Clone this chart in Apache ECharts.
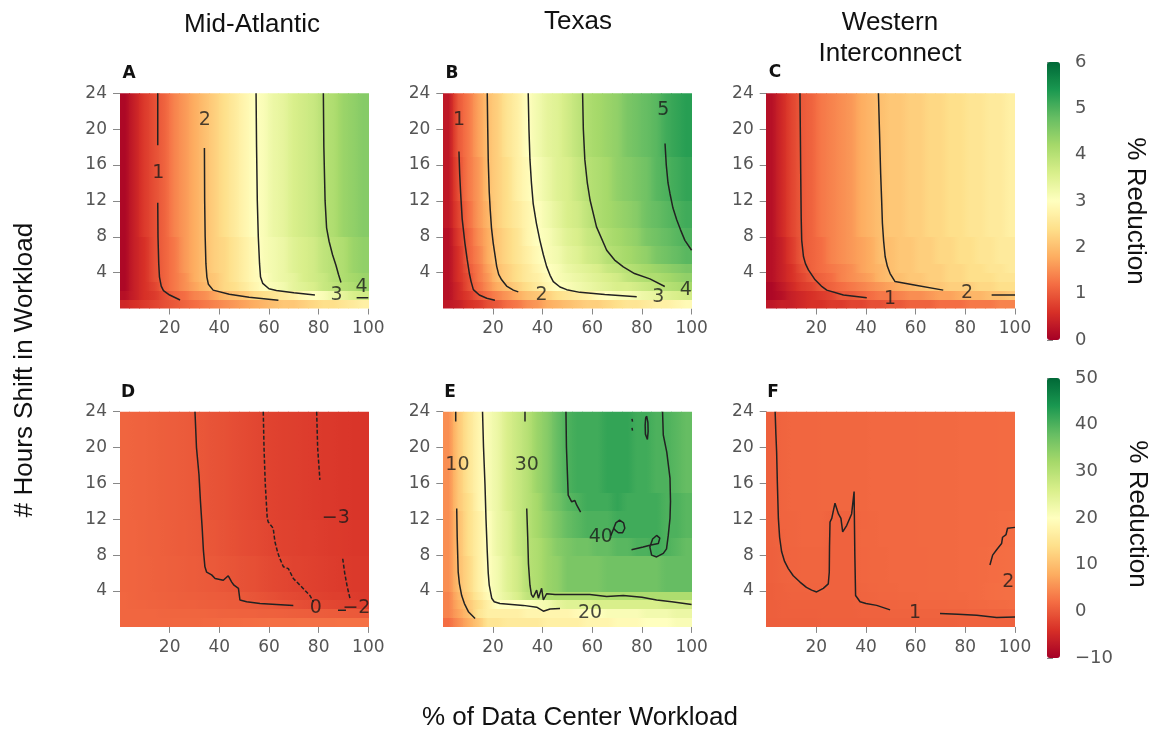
<!DOCTYPE html>
<html><head><meta charset="utf-8">
<script src="https://cdn.jsdelivr.net/npm/echarts@6/dist/echarts.min.js"></script>
<style>html,body{margin:0;padding:0;background:#fff}#chart{width:1170px;height:734px}</style>
</head><body><div id="chart"></div>
<script>
// ---------- axes / labels ----------
const xCenters = [2,6,10,14,18,22,26,30,34,38,42,46,50,54,58,62,66,70,74,78,82,86,90,94,98];
const yCenters = [0.5,1.5,2.5,3.5,4.5,5.5,6.5,7.5,8.5,9.5,10.5,11.5,12.5,13.5,14.5,15.5,16.5,17.5,18.5,19.5,20.5,21.5,22.5,23.5];
const xTicks = [20,40,60,80,100];
const yTicks = [4,8,12,16,20,24];
const colTitles = ['Mid-Atlantic','Texas','Western','Interconnect'];
const panelLetters = ['A','B','C','D','E','F'];
const xTitle = '% of Data Center Workload';
const yTitle = '# Hours Shift in Workload';
const cbarTitle = '% Reduction';
const RdYlGn = ['#a50026','#d73027','#f46d43','#fdae61','#fee08b','#ffffbf','#d9ef8b','#a6d96a','#66bd63','#1a9850','#006837'];

// ---------- panel A (Mid-Atlantic, top) : rows by hour band ----------
const A_top=[0.1,0.4,0.7,0.9,1.1,1.4,1.6,1.8,2.0,2.2,2.4,2.6,2.8,3.0,3.1,3.3,3.4,3.6,3.7,3.8,4.0,4.1,4.3,4.4,4.5];
const A_r4=[0.1,0.4,0.6,0.9,1.1,1.3,1.6,1.8,2.0,2.2,2.3,2.5,2.7,2.9,3.1,3.2,3.3,3.5,3.6,3.7,3.9,4.0,4.1,4.3,4.4];
const A_r3=[0.1,0.4,0.6,0.9,1.1,1.3,1.5,1.8,2.0,2.1,2.3,2.5,2.7,2.9,3.0,3.2,3.3,3.4,3.6,3.7,3.8,4.0,4.1,4.2,4.3];
const A_r2=[0.1,0.4,0.6,0.8,1.1,1.3,1.5,1.7,1.9,2.1,2.3,2.4,2.6,2.8,3.0,3.1,3.2,3.4,3.5,3.6,3.8,3.9,4.0,4.1,4.3];
const A_r1=[0.2,0.4,0.6,0.7,0.9,1.1,1.2,1.4,1.5,1.7,1.9,2.0,2.1,2.3,2.4,2.5,2.6,2.7,2.9,3.0,3.1,3.3,3.4,3.6,3.7];
const A_r0=[0.5,0.6,0.7,0.8,0.9,1.0,1.1,1.2,1.3,1.4,1.5,1.6,1.7,1.8,1.9,2.0,2.1,2.1,2.2,2.3,2.4,2.4,2.5,2.6,2.7];
const rowsA=[A_r0,A_r1,A_r2,A_r3,A_r4,A_r4,A_r4,A_r4,A_top,A_top,A_top,A_top,A_top,A_top,A_top,A_top,A_top,A_top,A_top,A_top,A_top,A_top,A_top,A_top];

// ---------- panel B (Texas, top) ----------
const B_top=[0.3,1.0,1.3,1.7,2.0,2.2,2.5,2.7,3.0,3.2,3.4,3.5,3.7,3.9,4.1,4.2,4.3,4.4,4.6,4.7,4.8,4.9,5.1,5.2,5.3];
const B_r12=[0.3,0.9,1.3,1.6,2.0,2.2,2.4,2.7,2.9,3.1,3.3,3.5,3.6,3.8,4.0,4.1,4.2,4.4,4.5,4.6,4.7,4.9,5.0,5.1,5.2];
const B_r9=[0.3,0.8,1.2,1.6,1.9,2.2,2.4,2.6,2.8,3.0,3.2,3.4,3.6,3.7,3.9,4.1,4.2,4.3,4.4,4.5,4.7,4.8,4.9,5.0,5.1];
const B_r7=[0.2,0.7,1.1,1.5,1.8,2.1,2.3,2.5,2.8,3.0,3.1,3.3,3.5,3.6,3.8,3.9,4.1,4.2,4.3,4.4,4.6,4.7,4.8,4.9,5.0];
const B_r5=[0.2,0.6,1.1,1.4,1.8,2.1,2.3,2.5,2.7,2.9,3.1,3.2,3.4,3.5,3.7,3.8,4.0,4.1,4.2,4.3,4.4,4.6,4.7,4.8,4.9];
const B_r4=[0.2,0.6,1.0,1.3,1.7,2.0,2.2,2.4,2.6,2.8,3.0,3.1,3.3,3.4,3.5,3.6,3.8,3.9,4.0,4.1,4.2,4.3,4.4,4.5,4.6];
const B_r3=[0.2,0.6,0.9,1.3,1.6,2.0,2.2,2.4,2.6,2.7,2.9,3.1,3.2,3.3,3.4,3.5,3.6,3.7,3.9,4.0,4.1,4.1,4.2,4.3,4.4];
const B_r2=[0.2,0.5,0.9,1.2,1.5,1.8,2.0,2.2,2.4,2.6,2.8,3.0,3.1,3.2,3.3,3.4,3.5,3.6,3.6,3.7,3.8,3.9,4.0,4.1,4.2];
const B_r1=[0.2,0.5,0.7,1.0,1.2,1.4,1.6,1.8,2.0,2.1,2.2,2.4,2.5,2.6,2.7,2.9,3.0,3.1,3.1,3.2,3.3,3.4,3.5,3.6,3.7];
const B_r0=[0.3,0.4,0.6,0.7,0.9,1.0,1.2,1.3,1.5,1.6,1.8,1.9,2.0,2.1,2.2,2.2,2.3,2.4,2.5,2.5,2.6,2.7,2.7,2.8,2.9];
const rowsB=[B_r0,B_r1,B_r2,B_r3,B_r4,B_r5,B_r5,B_r7,B_r7,B_r9,B_r9,B_r9,B_r12,B_r12,B_r12,B_r12,B_r12,B_top,B_top,B_top,B_top,B_top,B_top,B_top];

// ---------- panel C (Western Interconnect, top) ----------
const C_top=[0.2,0.5,0.8,1.0,1.1,1.3,1.4,1.5,1.6,1.8,1.9,2.0,2.1,2.1,2.2,2.2,2.3,2.3,2.4,2.4,2.5,2.5,2.6,2.6,2.7];
const C_r5=[0.2,0.4,0.7,1.0,1.1,1.2,1.4,1.5,1.6,1.7,1.8,2.0,2.0,2.1,2.1,2.2,2.2,2.3,2.3,2.4,2.4,2.5,2.5,2.6,2.6];
const C_r4=[0.2,0.4,0.6,0.9,1.1,1.2,1.3,1.4,1.5,1.7,1.8,1.9,2.0,2.1,2.1,2.2,2.2,2.2,2.3,2.3,2.4,2.4,2.5,2.5,2.6];
const C_r3=[0.2,0.4,0.6,0.8,1.0,1.1,1.2,1.4,1.5,1.6,1.7,1.9,2.0,2.0,2.1,2.1,2.2,2.2,2.3,2.3,2.4,2.4,2.4,2.5,2.5];
const C_r2=[0.1,0.3,0.5,0.7,0.8,1.0,1.1,1.2,1.3,1.4,1.5,1.6,1.7,1.8,1.9,2.0,2.1,2.1,2.2,2.2,2.2,2.3,2.3,2.4,2.4];
const C_r1=[0.1,0.2,0.4,0.5,0.6,0.7,0.8,1.0,1.0,1.1,1.2,1.3,1.3,1.4,1.5,1.5,1.6,1.7,1.7,1.8,1.9,1.9,2.0,2.0,2.1];
const C_r0=[0.3,0.4,0.4,0.5,0.6,0.6,0.7,0.7,0.8,0.8,0.9,0.9,1.0,1.0,1.1,1.1,1.1,1.2,1.2,1.2,1.3,1.3,1.3,1.4,1.4];
const rowsC=[C_r0,C_r1,C_r2,C_r3,C_r4,C_r5,C_r5,C_r5,C_top,C_top,C_top,C_top,C_top,C_top,C_top,C_top,C_top,C_top,C_top,C_top,C_top,C_top,C_top,C_top];

// ---------- panel D (Mid-Atlantic, bottom) ----------
const D_top=[1.2,1.0,0.9,0.7,0.5,0.4,0.2,0.0,-0.3,-0.6,-0.8,-1.1,-1.4,-1.7,-2.0,-2.2,-2.4,-2.5,-2.7,-2.9,-3.1,-3.2,-3.4,-3.5,-3.6];
const D_r8=[1.2,1.1,0.9,0.8,0.6,0.4,0.3,0.1,-0.1,-0.3,-0.6,-0.9,-1.2,-1.4,-1.7,-2.0,-2.2,-2.3,-2.5,-2.6,-2.8,-3.0,-3.1,-3.3,-3.4];
const D_r4=[1.2,1.1,1.0,0.8,0.7,0.6,0.4,0.3,0.1,0.0,-0.3,-0.5,-0.8,-1.0,-1.3,-1.6,-1.8,-2.1,-2.2,-2.4,-2.6,-2.8,-3.0,-3.1,-3.2];
const D_r3=[1.3,1.1,1.0,0.9,0.8,0.7,0.6,0.5,0.4,0.3,0.2,0.1,-0.1,-0.4,-0.7,-1.0,-1.3,-1.5,-1.8,-2.1,-2.3,-2.5,-2.6,-2.8,-3.0];
const D_r2=[1.3,1.2,1.1,1.0,0.9,0.8,0.7,0.7,0.6,0.5,0.4,0.3,0.2,0.1,0.0,-0.2,-0.5,-0.8,-1.1,-1.4,-1.6,-1.8,-2.0,-2.2,-2.4];
const D_r1=[1.3,1.3,1.3,1.3,1.2,1.2,1.2,1.2,1.2,1.1,1.0,1.0,0.9,0.9,0.8,0.8,0.7,0.6,0.5,0.4,0.4,0.3,0.2,0.1,0.0];
const D_r0=[1.3,1.3,1.3,1.3,1.3,1.4,1.4,1.4,1.5,1.6,1.7,1.8,1.9,2.0,2.1,2.2,2.2,2.2,2.3,2.3,2.3,2.3,2.4,2.4,2.4];
const rowsD=[D_r0,D_r1,D_r2,D_r3,D_r4,D_r4,D_r4,D_r4,D_r8,D_r8,D_r8,D_r8,D_top,D_top,D_top,D_top,D_top,D_top,D_top,D_top,D_top,D_top,D_top,D_top];

// ---------- panel E (Texas, bottom) ----------
const E_top=[5,11,15,18,21,23,26,28,30,33,35,38,40,41,41,41,42,42,42,41,41,40,40,39,38];
const E_r13=[5,11,14,18,21,23,26,28,30,32,35,37,39,40,41,41,41,42,41,41,41,41,40,40,39];
const E_r9=[5,10,14,17,20,23,25,28,30,32,34,36,38,39,40,40,40,41,41,41,41,41,40,40,39];
const E_r8=[5,10,14,17,20,23,25,28,30,31,33,35,36,37,37,38,38,39,39,40,40,41,40,39,38];
const E_r4=[5,10,13,17,20,22,25,27,30,31,33,34,36,36,36,36,37,37,37,37,37,37,38,38,38];
const E_r3=[4,9,12,16,19,22,24,26,29,30,31,31,31,31,31,31,31,31,31,31,31,31,31,31,31];
const E_r2=[4,8,11,14,17,20,20,20,20,21,22,24,25,25,25,26,26,26,26,26,26,26,27,27,27];
const E_r1=[4,7,10,15,17,17,17,17,18,18,18,18,18,19,20,20,21,21,21,21,22,22,22,23,23];
const E_r0=[2,5,8,11,15,15,16,16,16,16,17,17,17,17,18,18,18,19,19,19,20,20,20,21,21];
const rowsE=[E_r0,E_r1,E_r2,E_r3,E_r4,E_r4,E_r4,E_r4,E_r8,E_r8,E_r9,E_r9,E_r9,E_r13,E_r13,E_top,E_top,E_top,E_top,E_top,E_top,E_top,E_top,E_top];

// ---------- panel F (Western Interconnect, bottom) ----------
const F_top=[0.8,1.1,1.3,1.3,1.3,1.4,1.4,1.4,1.4,1.4,1.5,1.5,1.5,1.5,1.5,1.6,1.6,1.6,1.6,1.7,1.7,1.7,1.7,1.8,1.8];
const F_r11=[0.8,1.1,1.2,1.3,1.3,1.3,1.0,0.9,1.0,1.3,1.4,1.5,1.5,1.5,1.5,1.6,1.6,1.6,1.6,1.7,1.7,1.7,1.8,1.9,2.0];
const F_r9=[0.8,1.0,1.2,1.3,1.3,1.3,0.9,0.9,0.9,1.4,1.4,1.5,1.5,1.5,1.5,1.6,1.6,1.6,1.6,1.7,1.7,1.7,1.8,1.9,2.0];
const F_r5=[0.7,1.0,1.1,1.2,1.2,1.2,0.9,0.9,0.9,1.3,1.4,1.4,1.5,1.5,1.5,1.5,1.6,1.6,1.6,1.7,1.7,1.8,1.9,2.0,2.1];
const F_r4=[0.6,0.8,1.0,1.0,1.1,1.1,0.9,0.9,0.9,1.2,1.3,1.4,1.4,1.5,1.5,1.5,1.6,1.6,1.6,1.7,1.7,1.8,2.0,2.1,2.2];
const F_r3=[0.6,0.8,0.9,0.9,0.9,0.9,0.9,0.9,0.9,1.1,1.2,1.3,1.3,1.4,1.4,1.5,1.5,1.5,1.6,1.6,1.7,1.8,2.0,2.1,2.2];
const F_r2=[0.6,0.7,0.8,0.8,0.8,0.8,0.8,0.8,0.8,1.0,1.0,1.0,1.1,1.2,1.2,1.3,1.3,1.3,1.4,1.4,1.5,1.6,1.7,1.8,1.9];
const F_r1=[0.6,0.7,0.7,0.7,0.7,0.8,0.8,0.8,0.8,0.9,0.9,0.9,1.0,1.0,1.0,1.0,1.0,1.0,1.0,1.0,1.1,1.1,1.2,1.2,1.3];
const F_r0=[0.5,0.6,0.6,0.6,0.6,0.7,0.7,0.7,0.7,0.7,0.8,0.8,0.8,0.8,0.8,0.8,0.8,0.8,0.8,0.9,0.9,0.9,0.9,0.9,0.9];
const rowsF=[F_r0,F_r1,F_r2,F_r3,F_r4,F_r5,F_r5,F_r5,F_r5,F_r9,F_r9,F_r11,F_r11,F_top,F_top,F_top,F_top,F_top,F_top,F_top,F_top,F_top,F_top,F_top];

// ---------- contour lines (x %, y hours) ----------
const contA=[
 [[15.2,24],[15.2,18.2]],
 [[15.2,11.8],[15.3,8],[15.6,5],[15.9,3.5],[16.6,2.5],[17.5,2.0],[20,1.5],[24.2,0.95]],
 [[34,17.9],[34.1,12],[34.3,8],[34.6,5],[35,3.5],[35.6,2.7],[37.5,2.05],[44,1.6],[52,1.25],[63.8,0.93]],
 [[54.8,24],[55,18],[55.3,12],[55.7,8],[56.2,5],[56.6,3.5],[57.5,2.8],[60,2.2],[63,2.0],[70,1.75],[78.5,1.5]],
 [[81.9,24],[82.1,18],[82.6,12],[83.2,9],[84.2,7.5],[85.6,6],[87,4.8],[88,3.8],[89,2.9]],
 [[95.3,1.2],[100,1.2]]
];
const labA=[[15.4,15.1,'1'],[34.2,21.0,'2'],[87.2,1.5,'3'],[97.3,2.4,'4']];
const contB=[
 [[6.3,17.5],[6.6,15],[7.0,12.8],[7.6,10],[8.7,7.3],[9.6,5.5],[10.5,3.9],[11.2,3],[12.1,2.1],[14.5,1.5],[17.5,1.15],[20.8,0.93]],
 [[17.7,24],[17.9,20],[18.1,16.5],[18.5,13],[18.9,11],[19.4,9],[20.1,7.3],[21.5,4.7],[22.3,3.8],[23.5,3.2],[25.5,2.5],[28.2,2.05],[30.2,1.85]],
 [[34.2,24],[34.5,20],[34.9,16.6],[35.5,14],[36.2,11.7],[37.5,9.5],[38.9,7.6],[40.3,6],[41.6,4.7],[43,3.7],[44.3,3.0],[47,2.4],[49.7,2.1],[55,1.8],[65,1.55],[77.9,1.3]],
 [[56.1,24],[56.4,20],[57,16.6],[58,14],[59.1,12.1],[61.7,9.1],[65.8,6.5],[69,5.4],[72.5,4.65],[77,3.9],[83.2,3.3],[89.2,2.45]],
 [[89.3,18.4],[89.8,16],[90.5,14],[91.3,12.8],[92.5,11.2],[94,9.9],[95.5,8.8],[97.3,7.6],[100,6.5]]
];
const labB=[[6.3,21.0,'1'],[39.6,1.5,'2'],[86.6,1.3,'3'],[97.7,2.1,'4'],[88.6,22.1,'5']];
const contC=[
 [[13.4,24],[13.6,18],[13.7,15],[13.9,10],[14.1,7.6],[14.8,5.8],[15.6,5],[16.8,4.3],[19.5,3.2],[22,2.5],[24.2,2.05],[30.9,1.5],[40.3,1.2]],
 [[45,24],[45.4,20],[45.9,15],[46.3,12],[46.6,9.5],[47.1,7.5],[47.7,5.8],[48.6,4.7],[49.7,3.9],[51.7,3.0],[60,2.6],[71.1,2.05]],
 [[90.6,1.5],[100,1.5]]
];
const labC=[[49.7,1.1,'1'],[80.7,1.7,'2']];
const contD=[
 [[30.2,24],[30.8,20],[31.8,17],[32.4,14],[33.1,11],[33.6,8.5],[34.2,6.7],[34.9,6.1],[36.9,5.8],[38.3,5.4],[41.6,5.2],[43.6,5.7],[45,5.0],[45.9,4.65],[46.7,4.8],[47.7,4.3],[48.3,3.0],[51,2.8],[56.4,2.6],[63,2.5],[69.8,2.4]],
 [[87.8,1.85],[91,1.85]]
];
const contD_dashed=[
 [[57.7,24],[58,20],[58.5,16],[59.3,12.1],[59.7,11.7],[61.7,11.0],[62.4,9.5],[63.5,8.3],[64.4,7.6],[65.8,6.7],[67.8,6.5],[69.8,5.4],[72.5,4.65],[76.5,3.5],[77.9,2.8]],
 [[79.2,24],[79.6,20],[80.5,16.4]],
 [[89.7,7.6],[90.5,6],[91.5,4.5],[92.6,3.2]]
];
const labD=[[78.9,2.05,'0'],[86.9,12.1,'\u22123'],[95.2,2.1,'\u22122']];
const contE=[
 [[5.0,24],[5.0,22.9]],
 [[5.4,13.2],[5.6,10],[6.0,6.1],[6.5,4.8],[7.4,3.5],[8.5,2.6],[10.1,1.7],[12.8,0.93]],
 [[15.8,24],[16.2,20],[16.8,15.8],[17.2,12],[17.7,8.4],[18.1,6],[18.5,4.65],[19.5,3.2],[20.5,2.8],[22.8,2.6],[32.2,2.4],[37.6,2.2],[40.3,1.75],[43,2.0],[47,2.05]],
 [[32.9,24],[32.9,22.9]],
 [[33.6,13.2],[34,10],[34.3,7],[34.9,4.65],[35.5,3.6],[36.2,3.3],[37.6,4.1],[38.3,3.2],[39.6,4.3],[40.3,3.0],[41.6,3.7],[45,3.6],[52,3.6],[59,3.6],[65.8,3.4],[72.5,3.5],[80,3.3],[85.9,3.0],[92,2.8],[100,2.5]],
 [[49.4,24],[49.6,20],[50,17],[50.3,14.7],[51.7,13.95],[53,14.1],[53.7,13.6],[55.3,12.8]],
 [[67.5,10.2],[68.5,10.9],[69.5,11.6],[71,11.9],[72.6,11.6],[73.1,11.0],[72.2,10.5],[70.5,10.5],[69.2,10.8],[68.5,11.1]],
 [[75.8,8.6],[80.5,8.9],[83.2,9.1],[86.6,9.3],[87.2,9.9],[85.9,10.2],[84.3,9.8],[83.2,8.9],[83.9,8.0],[85.9,7.8],[88.6,8.2],[89.9,8.7],[90.6,10.2],[91.3,12.1],[91.5,14],[91.3,16.6],[90,19.5],[88.6,21.4],[88.3,24]],
 [[81.9,23.5],[82.4,22.8],[82.5,21.8],[82.2,20.9],[81.8,20.8],[81.4,21.5],[81.3,22.5],[81.5,23.3],[81.9,23.5]],
 [[76.0,23.2],[76.2,22.9]],
 [[76.0,22.2],[76.2,21.9]]
];
const labE=[[5.7,18.1,'10'],[33.6,18.1,'30'],[63.4,10.0,'40'],[59.1,1.5,'20']];
const contF=[
 [[3.4,24],[3.7,21.5],[4.0,19.5],[4.3,16],[4.7,12.1],[5.2,10],[6.0,8.4],[7.2,7.3],[8.7,6.5],[10.7,5.7],[13.4,5.0],[16,4.4],[18.1,4.1],[20.1,3.9],[22.8,4.3],[24.8,4.8],[25.2,6.1],[25.3,9],[25.5,11.7],[26.2,12.1],[27.5,13.8],[28.9,12.6],[29.9,12.1],[30.6,10.6],[32.2,11.3],[34.2,12.6],[35.2,15.1],[35.3,12.5],[35.5,8],[35.8,3.5],[37.6,2.8],[40,2.6],[44.3,2.4],[49.7,1.9]],
 [[69.8,1.5],[77,1.4],[84.6,1.3],[92.6,1.05],[100,1.1]],
 [[89.9,6.9],[91,8.0],[92.6,8.6],[94.6,9.3],[95,10.0],[96.4,10.3],[97,11.0],[100,11.1]]
];
const labF=[[59.7,1.5,'1'],[97.3,5.0,'2']];

// ---------- layout ----------
const colLeft=[120,443.3,766.7], rowTop=[93.3,411.7], PW=248.3, PH=215.2;
const ranges=[[0,6],[-10,50]];
const panels=[
 {rows:rowsA,cont:contA,dash:[],lab:labA},
 {rows:rowsB,cont:contB,dash:[],lab:labB},
 {rows:rowsC,cont:contC,dash:[],lab:labC},
 {rows:rowsD,cont:contD,dash:contD_dashed,lab:labD},
 {rows:rowsE,cont:contE,dash:[],lab:labE},
 {rows:rowsF,cont:contF,dash:[],lab:labF}
];
const tickFont={fontSize:17,color:'#555',fontFamily:'DejaVu Sans'};
const grid=[],xAxis=[],yAxis=[],series=[];
panels.forEach((p,i)=>{const r=Math.floor(i/3),c=i%3;
 grid.push({left:colLeft[c],top:rowTop[r],width:PW,height:PH});
 xAxis.push({gridIndex:i,type:'value',min:0,max:100,offset:4,
  axisLine:{show:false},splitLine:{show:false},
  axisTick:{show:true,length:6,customValues:xTicks,lineStyle:{color:'#888',width:1}},
  axisLabel:Object.assign({customValues:xTicks,margin:8},tickFont)});
 yAxis.push({gridIndex:i,type:'value',min:0,max:24,offset:2,
  axisLine:{show:false},splitLine:{show:false},
  axisTick:{show:true,length:7,customValues:yTicks,lineStyle:{color:'#888',width:1}},
  axisLabel:Object.assign({customValues:yTicks,margin:11},tickFont)});
});
// colorbar axes
[[62,278,0,6,1],[378,280,-10,50,10]].forEach((cb,k)=>{
 grid.push({left:1047,top:cb[0],width:13,height:cb[1]});
 xAxis.push({gridIndex:6+k,type:'value',show:false,min:0,max:1});
 yAxis.push({gridIndex:6+k,type:'value',position:'right',min:cb[2],max:cb[3],interval:cb[4],
  axisLine:{show:false},splitLine:{show:false},
  axisTick:{show:true,length:6,lineStyle:{color:'#888'}},
  axisLabel:{margin:15,fontSize:18,color:'#555',fontFamily:'DejaVu Sans',formatter:v=>String(v).replace('-','\u2212')}});
});
// colour field: one cell per data value, shaded smoothly toward neighbouring cells
function cmap(v,rg){const t=Math.max(0,Math.min(1,(v-rg[0])/(rg[1]-rg[0])));return echarts.color.lerp(t,RdYlGn);}
panels.forEach((p,i)=>{const rg=ranges[Math.floor(i/3)];const data=[];
 p.rows.forEach((row,yi)=>row.forEach((v,xi)=>data.push([xCenters[xi],yCenters[yi],v,xi,yi])));
 series.push({type:'custom',xAxisIndex:i,yAxisIndex:i,data:data,encode:{x:0,y:1},silent:true,clip:true,z:1,
  renderItem:function(params,api){
   const xi=api.value(3),yi=api.value(4),row=p.rows[yi],v=row[xi];
   const vl=xi>0?(row[xi-1]+v)/2:v, vr=xi<row.length-1?(row[xi+1]+v)/2:v;
   const hw=(xCenters[1]-xCenters[0])/2, hh=(yCenters[1]-yCenters[0])/2;
   const p0=api.coord([api.value(0)-hw,api.value(1)+hh]), p1=api.coord([api.value(0)+hw,api.value(1)-hh]);
   const x0=Math.floor(p0[0]),y0=Math.floor(p0[1]),x1=Math.ceil(p1[0]),y1=Math.ceil(p1[1]);
   return {type:'rect',shape:{x:x0,y:y0,width:x1-x0,height:y1-y0},
    style:{fill:new echarts.graphic.LinearGradient(0,0,1,0,[{offset:0,color:cmap(vl,rg)},{offset:0.5,color:cmap(v,rg)},{offset:1,color:cmap(vr,rg)}])}};
  }});
});
// contours + labels
panels.forEach((p,i)=>{
 p.cont.forEach(seg=>series.push({type:'line',xAxisIndex:i,yAxisIndex:i,data:seg,symbol:'none',silent:true,z:5,
  lineStyle:{color:'#222',width:1.5}}));
 p.dash.forEach(seg=>series.push({type:'line',xAxisIndex:i,yAxisIndex:i,data:seg,symbol:'none',silent:true,z:5,
  lineStyle:{color:'#222',width:1.5,type:[4,2]}}));
 series.push({type:'scatter',xAxisIndex:i,yAxisIndex:i,symbolSize:0,silent:true,z:6,clip:false,
  data:p.lab.map(l=>({value:[l[0],l[1]],name:l[2]})),
  label:{show:true,position:'inside',formatter:'{b}',fontSize:19,color:'#1a1a1a',fontFamily:'DejaVu Sans'}});
});

const titleFont='26px "Liberation Sans", Arial, sans-serif';
function txt(t,x,y,font,rot){return {type:'text',x:x,y:y,rotation:rot||0,silent:true,
 style:{text:t,x:0,y:0,font:font,fill:'#111',align:'center',verticalAlign:'middle',textAlign:'center',textVerticalAlign:'middle'}};}
const graphic=[
 txt(colTitles[0],252,25,titleFont),
 txt(colTitles[1],578,22,titleFont),
 txt(colTitles[2],890,23,titleFont),
 txt(colTitles[3],890,54,titleFont),
 txt(yTitle,25,370,titleFont,Math.PI/2),
 txt(xTitle,580,718,titleFont),
 txt(cbarTitle,1135,211,titleFont,-Math.PI/2),
 txt(cbarTitle,1137,514,titleFont,-Math.PI/2)
];
const letterPos=[[129,74],[452,74],[775,73],[128,393],[450,393],[773,393]];
panelLetters.forEach((L,i)=>graphic.push(txt(L,letterPos[i][0],letterPos[i][1],'bold 17px "DejaVu Sans"')));

const chart=echarts.init(document.getElementById('chart'));
chart.setOption({
 animation:false,backgroundColor:'#fff',
 grid,xAxis,yAxis,series,graphic,
 visualMap:[
  {type:'continuous',min:0,max:6,seriesIndex:[0,1,2],dimension:2,inRange:{color:RdYlGn},left:1047,top:62,itemWidth:13,itemHeight:278,calculable:false,padding:0,hoverLink:false,text:null,showLabel:false},
  {type:'continuous',min:-10,max:50,seriesIndex:[3,4,5],dimension:2,inRange:{color:RdYlGn},left:1047,top:378,itemWidth:13,itemHeight:280,calculable:false,padding:0,hoverLink:false,text:null,showLabel:false}
 ]
});
</script></body></html>
